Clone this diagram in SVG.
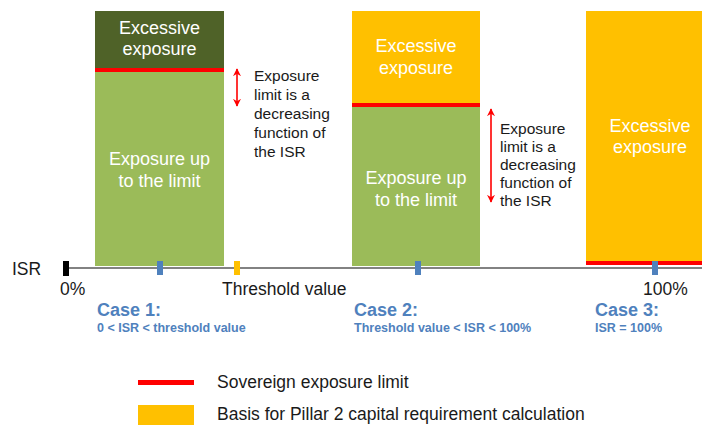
<svg xmlns="http://www.w3.org/2000/svg" width="702" height="425" viewBox="0 0 702 425">
<defs>
<style>
text{font-family:"Liberation Sans",Arial,sans-serif;}
.w{fill:#fff;font-size:18px;text-anchor:middle;}
.k{fill:#1a1a1a;font-size:17.5px;}
.n{fill:#1a1a1a;font-size:15.5px;}
.cb{fill:#4F81BD;font-size:18px;font-weight:bold;}
.cs{fill:#4F81BD;font-size:12.5px;font-weight:bold;}
.red{stroke:#FF0000;stroke-width:1.6;fill:none;}
</style>
<marker id="ah" viewBox="0 0 10 10" refX="9" refY="5" markerWidth="8" markerHeight="8" orient="auto-start-reverse" markerUnits="userSpaceOnUse">
<path d="M0,0 L10,5 L0,10 L3,5 Z" fill="#FF0000"/>
</marker>
</defs>
<rect width="702" height="425" fill="#fff"/>

<g id="bar1">
<rect x="95" y="11" width="129" height="58" fill="#4F6228"/>
<rect x="95" y="72" width="129" height="194" fill="#9BBB59"/>
<rect x="95" y="68" width="129" height="4" fill="#FF0000"/>
<text class="w" x="159.5" y="34">Excessive</text>
<text class="w" x="159.5" y="55">exposure</text>
<text class="w" x="159.5" y="165">Exposure up</text>
<text class="w" x="159.5" y="187">to the limit</text>
</g>

<g id="bar2">
<rect x="352" y="11" width="128" height="93" fill="#FFC000"/>
<rect x="352" y="107" width="128" height="159" fill="#9BBB59"/>
<rect x="352" y="103" width="128" height="4" fill="#FF0000"/>
<text class="w" x="416" y="52">Excessive</text>
<text class="w" x="416" y="74">exposure</text>
<text class="w" x="416" y="184">Exposure up</text>
<text class="w" x="416" y="206">to the limit</text>
</g>

<g id="bar3">
<rect x="586" y="11" width="116" height="251" fill="#FFC000"/>
<rect x="586" y="261" width="116" height="4" fill="#FF0000"/>
<text class="w" x="650" y="132">Excessive</text>
<text class="w" x="650" y="153">exposure</text>
</g>

<g id="connectors">
<line x1="66" y1="268" x2="702" y2="268" stroke="#595959" stroke-width="1.5"/>
<line class="red" x1="237" y1="69" x2="237" y2="106" marker-start="url(#ah)" marker-end="url(#ah)"/>
<line class="red" x1="491" y1="109" x2="491" y2="202" marker-start="url(#ah)" marker-end="url(#ah)"/>
</g>

<g id="axis">
<text class="k" x="12" y="275">ISR</text>
<rect x="63" y="261" width="6" height="15" fill="#000"/>
<rect x="157" y="261" width="6" height="14" fill="#4F81BD"/>
<rect x="234" y="261" width="6" height="14" fill="#FFC000"/>
<rect x="415" y="261" width="6" height="14" fill="#4F81BD"/>
<rect x="652" y="261" width="6" height="14" fill="#4F81BD"/>
<text class="k" x="60" y="295">0%</text>
<text class="k" x="222" y="295">Threshold value</text>
<text class="k" x="643" y="295">100%</text>
</g>

<g id="note1">
<text class="n" x="254" y="81">Exposure</text>
<text class="n" x="254" y="100">limit is a</text>
<text class="n" x="254" y="119">decreasing</text>
<text class="n" x="254" y="138">function of</text>
<text class="n" x="254" y="157">the ISR</text>
</g>

<g id="note2">
<text class="n" x="500" y="134">Exposure</text>
<text class="n" x="500" y="152">limit is a</text>
<text class="n" x="500" y="170">decreasing</text>
<text class="n" x="500" y="188">function of</text>
<text class="n" x="500" y="206">the ISR</text>
</g>

<g id="case1">
<text class="cb" x="97" y="316">Case 1:</text>
<text class="cs" x="97" y="332">0 &lt; ISR &lt; threshold value</text>
</g>
<g id="case2">
<text class="cb" x="354" y="316">Case 2:</text>
<text class="cs" x="354" y="332">Threshold value &lt; ISR &lt; 100%</text>
</g>
<g id="case3">
<text class="cb" x="595" y="316">Case 3:</text>
<text class="cs" x="595" y="332">ISR = 100%</text>
</g>

<g id="legend">
<rect x="138" y="380" width="56" height="5" fill="#FF0000"/>
<text class="k" x="217" y="388">Sovereign exposure limit</text>
<rect x="138" y="405" width="56" height="20" fill="#FFC000"/>
<text class="k" x="217" y="420">Basis for Pillar 2 capital requirement calculation</text>
</g>
</svg>
